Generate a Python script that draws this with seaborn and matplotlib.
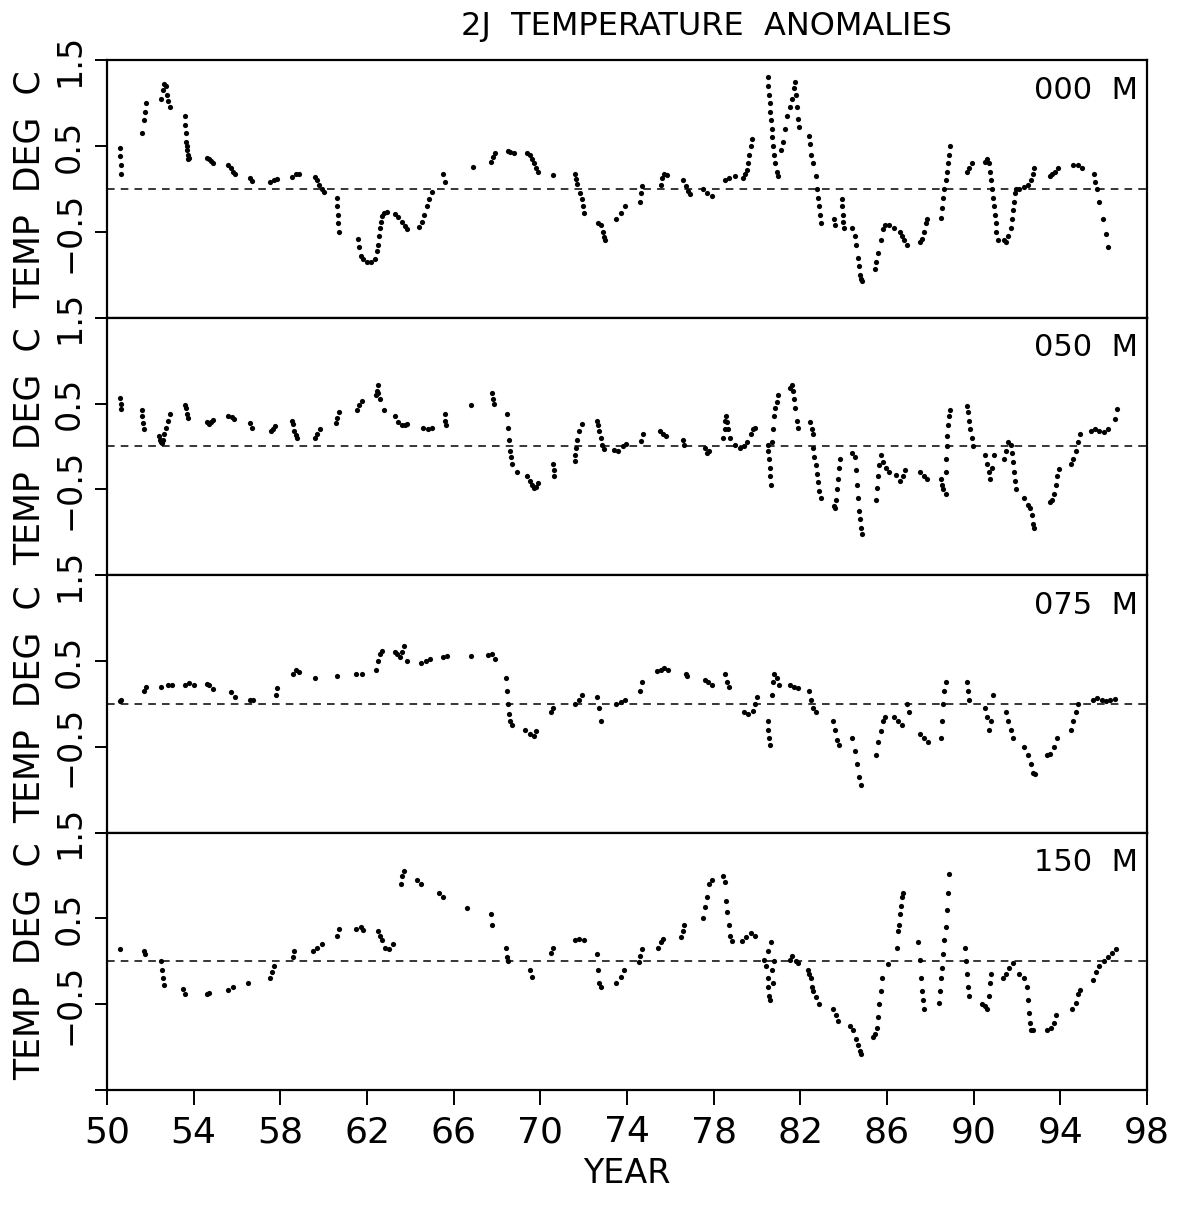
import matplotlib
matplotlib.use("Agg")
import matplotlib.pyplot as plt
import seaborn as sns
import pandas as pd

# (year, anomaly) pairs, one list per depth
obs_000 = [
    (50.6, 0.48), (50.6, 0.38), (50.65, 0.28), (50.65, 0.18),
    (51.6, 0.65), (51.7, 0.8), (51.75, 0.9), (51.8, 1.0),
    (52.5, 1.05), (52.6, 1.15), (52.65, 1.22), (52.7, 1.2), (52.75, 1.1), (52.8, 1.02), (52.9, 0.95),
    (53.6, 0.85), (53.62, 0.75), (53.64, 0.65), (53.66, 0.55), (53.68, 0.5), (53.7, 0.45),
    (53.72, 0.4), (53.75, 0.35), (53.8, 0.36),
    (54.6, 0.36), (54.7, 0.35), (54.8, 0.33), (54.9, 0.3),
    (55.6, 0.28), (55.7, 0.24), (55.8, 0.2), (55.9, 0.17),
    (56.6, 0.13), (56.7, 0.09),
    (57.5, 0.08), (57.7, 0.1), (57.85, 0.12),
    (58.55, 0.14), (58.7, 0.18), (58.85, 0.17),
    (59.6, 0.14), (59.7, 0.1), (59.8, 0.05), (59.9, 0.0), (60.0, -0.03),
    (60.6, -0.1), (60.62, -0.2), (60.65, -0.3), (60.68, -0.4), (60.7, -0.5),
    (61.6, -0.58), (61.65, -0.68), (61.7, -0.78), (61.8, -0.82), (62.0, -0.85), (62.2, -0.85),
    (62.35, -0.82), (62.45, -0.72),
    (62.5, -0.65), (62.55, -0.55), (62.6, -0.45), (62.65, -0.38), (62.7, -0.32), (62.8, -0.28), (62.9, -0.27),
    (63.3, -0.29), (63.45, -0.33), (63.6, -0.38), (63.75, -0.43), (63.85, -0.47),
    (64.4, -0.44), (64.55, -0.38), (64.65, -0.3), (64.75, -0.2), (64.85, -0.12), (65.0, -0.03),
    (65.5, 0.17), (65.6, 0.08),
    (66.9, 0.26),
    (67.7, 0.32), (67.8, 0.37), (67.9, 0.42),
    (68.5, 0.44), (68.6, 0.43), (68.8, 0.42),
    (69.4, 0.42), (69.5, 0.4), (69.6, 0.35), (69.7, 0.3), (69.8, 0.25), (69.9, 0.2),
    (70.6, 0.16),
    (71.6, 0.18), (71.65, 0.12), (71.7, 0.06),
    (71.85, -0.05), (71.9, -0.12), (71.95, -0.2), (72.0, -0.28),
    (72.65, -0.4), (72.8, -0.42), (72.9, -0.5), (72.95, -0.56), (73.0, -0.6),
    (73.5, -0.35), (73.7, -0.28), (73.9, -0.2),
    (74.6, -0.15), (74.65, -0.05), (74.7, 0.03),
    (75.55, 0.05), (75.6, 0.13), (75.7, 0.18), (75.85, 0.16),
    (76.6, 0.1), (76.7, 0.03), (76.8, -0.02), (76.9, -0.06),
    (77.5, 0.0), (77.7, -0.05), (77.9, -0.08),
    (78.5, 0.1), (78.7, 0.13), (79.0, 0.15),
    (79.35, 0.13), (79.45, 0.17), (79.55, 0.22), (79.6, 0.3), (79.65, 0.4), (79.7, 0.5), (79.75, 0.58),
    (80.5, 1.3), (80.52, 1.2), (80.55, 1.1), (80.58, 1.0), (80.6, 0.9), (80.63, 0.8), (80.67, 0.7),
    (80.7, 0.6), (80.75, 0.5), (80.8, 0.4), (80.85, 0.3), (80.9, 0.2), (80.95, 0.15),
    (81.1, 0.45), (81.2, 0.55), (81.3, 0.7), (81.4, 0.85), (81.5, 0.95), (81.6, 1.05), (81.7, 1.18),
    (81.75, 1.25), (81.8, 1.1), (81.85, 0.95), (81.9, 0.82), (81.95, 0.72),
    (82.4, 0.62), (82.45, 0.52), (82.5, 0.4), (82.6, 0.3), (82.7, 0.15), (82.75, 0.0), (82.8, -0.1),
    (82.85, -0.2), (82.9, -0.3), (82.95, -0.4),
    (83.55, -0.35), (83.6, -0.42), (83.9, -0.12), (83.92, -0.2), (83.95, -0.3), (83.97, -0.38), (84.0, -0.46),
    (84.4, -0.45), (84.5, -0.55), (84.55, -0.65), (84.65, -0.8), (84.7, -0.9), (84.75, -1.0),
    (84.8, -1.05), (84.85, -1.07),
    (85.45, -0.93), (85.5, -0.85), (85.6, -0.75), (85.7, -0.6), (85.8, -0.47), (85.9, -0.42),
    (86.1, -0.42), (86.3, -0.45),
    (86.6, -0.5), (86.7, -0.55), (86.8, -0.6), (86.9, -0.65),
    (87.5, -0.62), (87.6, -0.58), (87.7, -0.5), (87.8, -0.4), (87.85, -0.35),
    (88.5, -0.34), (88.55, -0.22), (88.6, -0.1), (88.65, 0.0), (88.7, 0.1), (88.75, 0.2), (88.8, 0.3),
    (88.85, 0.4), (88.9, 0.5),
    (89.7, 0.2), (89.8, 0.25), (89.9, 0.3),
    (90.5, 0.32), (90.6, 0.35), (90.7, 0.3), (90.75, 0.2), (90.8, 0.1), (90.85, 0.0), (90.9, -0.1),
    (90.95, -0.2), (91.0, -0.3), (91.02, -0.4), (91.05, -0.5), (91.1, -0.6),
    (91.4, -0.6), (91.5, -0.62), (91.6, -0.55), (91.7, -0.45), (91.75, -0.35), (91.8, -0.25),
    (91.85, -0.15), (91.9, -0.05), (91.95, 0.0),
    (92.1, 0.0), (92.3, 0.02), (92.5, 0.05), (92.65, 0.1), (92.75, 0.18), (92.8, 0.25),
    (93.5, 0.15), (93.6, 0.17), (93.75, 0.2), (93.9, 0.25),
    (94.6, 0.28), (94.8, 0.28), (95.0, 0.25),
    (95.55, 0.17), (95.6, 0.08), (95.7, 0.0), (95.8, -0.15), (95.95, -0.35), (96.1, -0.52), (96.2, -0.68),
]

obs_050 = [
    (50.62, 0.57), (50.64, 0.5), (50.66, 0.44),
    (51.6, 0.42), (51.62, 0.35), (51.65, 0.27), (51.7, 0.2),
    (52.4, 0.12), (52.45, 0.08), (52.5, 0.05), (52.55, 0.04), (52.6, 0.08), (52.65, 0.15),
    (52.7, 0.22), (52.8, 0.3), (52.9, 0.38),
    (53.6, 0.48), (53.65, 0.45), (53.7, 0.38), (53.75, 0.33),
    (54.6, 0.28), (54.7, 0.26), (54.8, 0.28), (54.9, 0.31),
    (55.6, 0.35), (55.75, 0.34), (55.85, 0.32),
    (56.6, 0.27), (56.7, 0.22),
    (57.55, 0.18), (57.65, 0.2), (57.75, 0.24),
    (58.55, 0.3), (58.6, 0.26), (58.65, 0.18), (58.7, 0.13), (58.75, 0.1),
    (59.6, 0.1), (59.7, 0.15), (59.85, 0.2),
    (60.55, 0.27), (60.62, 0.33), (60.7, 0.4),
    (61.55, 0.42), (61.65, 0.48), (61.75, 0.53),
    (62.4, 0.6), (62.45, 0.65), (62.5, 0.72), (62.52, 0.62), (62.6, 0.55), (62.8, 0.43),
    (63.3, 0.35), (63.45, 0.28), (63.6, 0.25), (63.75, 0.25), (63.85, 0.26),
    (64.6, 0.22), (64.8, 0.2), (65.0, 0.21),
    (65.6, 0.38), (65.62, 0.3), (65.64, 0.25),
    (66.8, 0.48),
    (67.75, 0.62), (67.8, 0.55), (67.85, 0.5),
    (68.45, 0.38), (68.5, 0.22), (68.55, 0.07), (68.6, -0.05), (68.65, -0.12), (68.7, -0.2),
    (68.9, -0.3),
    (69.4, -0.35), (69.5, -0.4), (69.6, -0.45), (69.7, -0.48), (69.8, -0.47), (69.9, -0.43),
    (70.6, -0.2), (70.62, -0.27), (70.64, -0.35),
    (71.6, -0.17), (71.62, -0.1), (71.65, -0.02), (71.7, 0.08), (71.8, 0.18), (71.9, 0.26),
    (72.6, 0.3), (72.65, 0.25), (72.7, 0.18), (72.8, 0.1), (72.85, 0.02), (72.95, -0.03),
    (73.4, -0.04), (73.6, -0.05), (73.8, 0.0), (73.95, 0.03),
    (74.65, 0.06), (74.75, 0.14),
    (75.5, 0.18), (75.65, 0.15), (75.8, 0.12),
    (76.6, 0.08), (76.65, 0.02),
    (77.6, -0.02), (77.7, -0.08), (77.8, -0.05),
    (78.45, 0.1), (78.5, 0.2), (78.52, 0.3), (78.55, 0.36), (78.6, 0.28), (78.65, 0.2), (78.75, 0.1),
    (79.0, 0.02), (79.2, -0.02), (79.4, 0.0), (79.55, 0.05),
    (79.7, 0.15), (79.8, 0.2), (79.9, 0.22),
    (80.5, 0.02), (80.52, -0.05), (80.55, -0.15), (80.58, -0.25), (80.6, -0.35), (80.65, -0.45),
    (80.7, 0.05), (80.75, 0.2), (80.8, 0.35), (80.85, 0.45), (80.9, 0.52), (80.95, 0.6),
    (81.5, 0.68), (81.6, 0.71), (81.65, 0.65), (81.7, 0.55), (81.75, 0.45), (81.85, 0.3), (81.9, 0.22),
    (82.45, 0.28), (82.55, 0.2), (82.6, 0.15),
    (82.6, -0.02), (82.65, -0.12), (82.7, -0.22), (82.75, -0.32), (82.8, -0.42), (82.85, -0.52), (82.95, -0.6),
    (83.55, -0.7), (83.6, -0.72), (83.65, -0.62), (83.7, -0.5), (83.75, -0.38), (83.8, -0.25), (83.85, -0.15),
    (84.4, -0.08), (84.5, -0.12), (84.55, -0.28), (84.6, -0.45), (84.65, -0.6), (84.7, -0.75),
    (84.75, -0.85), (84.8, -0.95), (84.85, -1.02),
    (85.5, -0.62), (85.55, -0.48), (85.6, -0.35), (85.65, -0.22), (85.7, -0.1),
    (85.8, -0.18), (85.95, -0.25), (86.1, -0.3),
    (86.4, -0.33), (86.6, -0.4), (86.75, -0.35), (86.85, -0.28),
    (87.5, -0.3), (87.7, -0.35), (87.85, -0.38),
    (88.5, -0.38), (88.55, -0.45), (88.6, -0.5), (88.7, -0.55),
    (88.7, -0.3), (88.72, -0.15), (88.75, 0.0), (88.78, 0.12), (88.8, 0.25), (88.85, 0.35), (88.9, 0.42),
    (89.7, 0.47), (89.75, 0.4), (89.8, 0.3), (89.85, 0.2), (89.9, 0.1), (89.95, 0.0),
    (90.5, -0.1), (90.6, -0.2), (90.7, -0.3), (90.75, -0.38), (90.85, -0.25), (90.95, -0.1),
    (91.4, -0.15), (91.5, -0.05), (91.6, 0.05), (91.7, 0.02), (91.75, -0.08), (91.8, -0.18),
    (91.85, -0.3), (91.9, -0.4), (91.95, -0.5),
    (92.3, -0.6), (92.5, -0.68), (92.6, -0.72), (92.7, -0.8), (92.75, -0.9), (92.8, -0.95),
    (93.5, -0.65), (93.6, -0.62), (93.7, -0.55), (93.8, -0.45), (93.85, -0.35), (93.95, -0.26),
    (94.5, -0.2), (94.6, -0.15), (94.7, -0.05), (94.8, 0.05), (94.9, 0.14),
    (95.4, 0.18), (95.6, 0.2), (95.8, 0.18), (96.0, 0.17), (96.2, 0.2),
    (96.5, 0.32), (96.6, 0.44),
]

obs_075 = [
    (50.6, 0.03), (50.65, 0.05),
    (51.7, 0.15), (51.8, 0.2),
    (52.5, 0.2), (52.8, 0.22), (53.0, 0.22),
    (53.6, 0.22), (53.8, 0.24), (54.0, 0.22),
    (54.6, 0.23), (54.7, 0.22), (54.9, 0.17),
    (55.7, 0.14), (55.9, 0.08),
    (56.6, 0.05), (56.75, 0.04),
    (57.8, 0.1), (57.85, 0.18),
    (58.6, 0.35), (58.7, 0.4), (58.85, 0.37),
    (59.6, 0.3),
    (60.6, 0.32),
    (61.5, 0.35), (61.75, 0.35),
    (62.4, 0.4), (62.5, 0.5), (62.6, 0.58), (62.7, 0.62),
    (63.3, 0.6), (63.4, 0.58), (63.5, 0.55), (63.6, 0.6), (63.7, 0.68), (63.85, 0.5),
    (64.5, 0.48), (64.7, 0.5), (64.9, 0.52),
    (65.5, 0.55), (65.7, 0.56),
    (66.8, 0.56),
    (67.6, 0.57), (67.75, 0.58), (67.9, 0.52),
    (68.4, 0.3), (68.45, 0.15), (68.5, 0.0), (68.55, -0.12), (68.6, -0.2), (68.7, -0.25),
    (69.3, -0.3), (69.5, -0.35), (69.7, -0.38), (69.8, -0.32),
    (70.5, -0.1), (70.6, -0.05),
    (71.6, 0.0), (71.8, 0.05), (71.9, 0.1),
    (72.6, 0.08), (72.7, -0.05), (72.8, -0.2),
    (73.5, 0.0), (73.7, 0.02), (73.9, 0.05),
    (74.6, 0.15), (74.7, 0.25),
    (75.4, 0.38), (75.55, 0.4), (75.7, 0.42), (75.9, 0.4),
    (76.7, 0.35), (76.75, 0.33),
    (77.6, 0.28), (77.75, 0.25), (77.9, 0.22),
    (78.5, 0.35), (78.6, 0.25), (78.7, 0.2),
    (79.4, -0.1), (79.6, -0.12), (79.8, -0.08), (79.9, 0.0), (80.0, 0.08),
    (80.5, -0.2), (80.52, -0.3), (80.55, -0.4), (80.6, -0.48),
    (80.7, 0.1), (80.75, 0.25), (80.8, 0.35), (80.9, 0.3), (81.0, 0.22),
    (81.5, 0.22), (81.7, 0.2), (81.9, 0.18),
    (82.4, 0.15), (82.5, 0.05), (82.6, -0.05), (82.7, -0.1),
    (83.5, -0.2), (83.6, -0.3), (83.7, -0.42), (83.8, -0.48),
    (84.4, -0.4), (84.5, -0.55), (84.6, -0.7), (84.7, -0.85), (84.8, -0.95),
    (85.5, -0.6), (85.6, -0.45), (85.7, -0.32), (85.8, -0.2), (85.9, -0.15),
    (86.3, -0.15), (86.5, -0.2), (86.7, -0.25),
    (86.9, 0.0), (87.0, -0.1),
    (87.5, -0.35), (87.7, -0.4), (87.9, -0.45),
    (88.5, -0.4), (88.55, -0.2), (88.6, 0.0), (88.65, 0.15), (88.7, 0.25),
    (89.7, 0.25), (89.75, 0.15), (89.8, 0.05),
    (90.5, -0.05), (90.6, -0.15), (90.7, -0.3), (90.8, -0.2), (90.9, 0.1),
    (91.5, -0.1), (91.6, -0.2), (91.7, -0.3), (91.8, -0.4),
    (92.3, -0.5), (92.5, -0.6), (92.65, -0.7), (92.75, -0.8), (92.85, -0.82),
    (93.4, -0.6), (93.5, -0.58), (93.7, -0.5), (93.85, -0.4),
    (94.5, -0.3), (94.6, -0.2), (94.7, -0.1), (94.8, 0.0),
    (95.5, 0.05), (95.7, 0.07), (95.9, 0.05), (96.1, 0.03), (96.3, 0.05), (96.5, 0.06),
]

obs_150 = [
    (50.6, 0.14),
    (51.7, 0.12), (51.75, 0.08),
    (52.5, 0.0), (52.55, -0.1), (52.6, -0.2), (52.65, -0.28),
    (53.5, -0.32), (53.6, -0.38),
    (54.6, -0.38), (54.7, -0.37),
    (55.6, -0.33), (55.8, -0.3),
    (56.5, -0.25),
    (57.5, -0.2), (57.6, -0.12), (57.7, -0.05),
    (58.6, 0.05), (58.65, 0.12),
    (59.5, 0.12), (59.7, 0.15), (59.9, 0.2),
    (60.6, 0.3), (60.7, 0.38),
    (61.5, 0.38), (61.7, 0.4), (61.8, 0.37),
    (62.5, 0.35), (62.6, 0.3), (62.7, 0.25),
    (62.85, 0.15), (63.0, 0.14), (63.2, 0.2),
    (63.55, 0.9), (63.6, 1.0), (63.7, 1.05),
    (64.3, 0.95), (64.5, 0.9),
    (65.3, 0.8), (65.5, 0.75),
    (66.6, 0.62),
    (67.7, 0.55), (67.75, 0.42),
    (68.4, 0.15), (68.45, 0.05), (68.5, 0.0),
    (69.5, -0.1), (69.6, -0.18),
    (70.5, 0.1), (70.6, 0.15),
    (71.6, 0.25), (71.8, 0.26), (72.0, 0.25),
    (72.6, 0.08), (72.65, -0.1), (72.7, -0.25), (72.8, -0.3),
    (73.5, -0.25), (73.7, -0.18), (73.85, -0.1),
    (74.55, -0.01), (74.6, 0.06), (74.7, 0.14),
    (75.45, 0.16), (75.55, 0.22), (75.65, 0.26),
    (76.5, 0.28), (76.6, 0.35), (76.65, 0.42),
    (77.5, 0.5), (77.6, 0.63), (77.7, 0.75), (77.8, 0.9), (77.9, 0.95),
    (78.45, 1.0), (78.5, 0.92), (78.55, 0.7), (78.6, 0.58), (78.7, 0.42), (78.75, 0.3), (78.85, 0.24),
    (79.3, 0.24), (79.5, 0.28), (79.7, 0.33), (79.9, 0.3),
    (80.3, 0.02), (80.4, -0.05), (80.5, 0.12), (80.5, -0.2), (80.52, -0.3), (80.55, -0.4), (80.6, -0.45),
    (80.65, 0.22), (80.7, -0.1), (80.75, -0.25), (80.8, 0.0),
    (81.5, 0.02), (81.6, 0.06), (81.8, 0.0), (81.9, -0.02),
    (82.35, -0.1), (82.4, -0.15), (82.5, -0.2), (82.55, -0.3), (82.6, -0.35), (82.7, -0.42), (82.85, -0.5),
    (83.5, -0.55), (83.65, -0.62), (83.75, -0.7),
    (84.3, -0.75), (84.45, -0.8), (84.55, -0.9), (84.65, -0.98), (84.75, -1.05), (84.8, -1.08),
    (85.35, -0.88), (85.45, -0.85), (85.55, -0.78), (85.6, -0.65), (85.65, -0.5), (85.7, -0.35), (85.75, -0.2),
    (86.05, -0.03),
    (86.45, 0.15), (86.5, 0.35), (86.55, 0.42), (86.6, 0.55), (86.65, 0.65), (86.7, 0.75), (86.75, 0.8),
    (87.45, 0.22), (87.5, 0.02), (87.55, -0.2), (87.6, -0.35), (87.65, -0.45), (87.7, -0.55),
    (88.4, -0.48), (88.45, -0.35), (88.5, -0.2), (88.55, -0.08), (88.6, 0.08), (88.65, 0.25),
    (88.7, 0.4), (88.75, 0.6), (88.8, 0.8), (88.85, 1.02),
    (89.6, 0.16), (89.65, 0.0), (89.7, -0.15), (89.75, -0.3), (89.8, -0.4),
    (90.4, -0.5), (90.5, -0.52), (90.6, -0.55), (90.7, -0.4), (90.75, -0.25), (90.8, -0.15),
    (91.35, -0.2), (91.5, -0.15), (91.65, -0.08), (91.8, -0.02),
    (92.1, -0.15), (92.3, -0.2), (92.45, -0.3), (92.5, -0.45), (92.55, -0.6), (92.6, -0.72),
    (92.65, -0.8), (92.75, -0.8),
    (93.4, -0.8), (93.55, -0.78), (93.7, -0.72), (93.8, -0.62),
    (94.55, -0.55), (94.7, -0.48), (94.8, -0.38), (94.9, -0.33),
    (95.5, -0.22), (95.65, -0.12), (95.8, -0.05), (96.0, 0.0), (96.2, 0.05), (96.4, 0.1), (96.55, 0.14),
]

depth_labels = ["000  M", "050  M", "075  M", "150  M"]
year_ticks = list(range(50, 99, 4))
temp_ticks = [-1.5, -0.5, 0.5, 1.5]
temp_tick_labels = ["", "\u22120.5", "0.5", "1.5"]

sns.set_theme(style="ticks")
plt.rcParams["font.family"] = ["DejaVu Sans"]
plt.rcParams.update({"text.color": "black", "axes.labelcolor": "black",
                     "xtick.color": "black", "ytick.color": "black"})

fig = plt.figure(figsize=(11.84, 12.05), dpi=100)
axes = fig.subplots(4, 1, sharex=True)
fig.subplots_adjust(left=0.0904, right=0.9688, top=0.950, bottom=0.0954, hspace=0)

for ax, obs, lab in zip(axes, [obs_000, obs_050, obs_075, obs_150], depth_labels):
    df = pd.DataFrame(obs, columns=["year", "temp"])
    sns.scatterplot(data=df, x="year", y="temp", ax=ax, s=14, color="black",
                    linewidth=0, legend=False)
    ax.axhline(0, color="black", linestyle=(0, (5, 4)), linewidth=1.1)
    ax.set_xlim(50, 98)
    ax.set_ylim(-1.5, 1.5)
    ax.set_yticks(temp_ticks)
    ax.set_yticklabels(temp_tick_labels)
    ax.tick_params(axis="y", direction="out", length=9, width=1.4, pad=6,
                   labelsize=24, labelrotation=90)
    for t in ax.get_yticklabels():
        t.set_verticalalignment("center")
    ax.set_ylabel("TEMP  DEG  C", fontsize=25)
    ax.yaxis.set_label_coords(-0.058, 0.5)
    ax.set_xlabel("")
    for sp in ax.spines.values():
        sp.set_linewidth(1.6)
        sp.set_color("black")
    ax.text(0.991, 0.94, lab, transform=ax.transAxes, ha="right", va="top", fontsize=22)

for ax in axes[:-1]:
    ax.tick_params(axis="x", bottom=False, labelbottom=False)

bottom = axes[-1]
bottom.set_xticks(year_ticks)
bottom.tick_params(axis="x", direction="out", length=11, width=1.4, pad=7, labelsize=26)
bottom.set_xlabel("YEAR", fontsize=24, labelpad=6)

fig.text(0.597, 0.978, "2J  TEMPERATURE  ANOMALIES", ha="center", va="center", fontsize=23)

fig.savefig("out.png", dpi=100)
